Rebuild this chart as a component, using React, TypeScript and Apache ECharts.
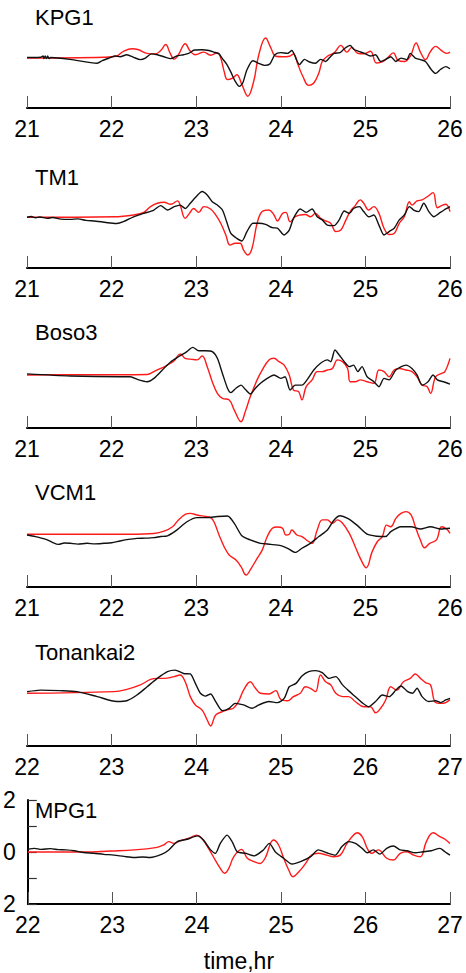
import { useEffect, useRef } from "react";
import * as echarts from "echarts";

// Station names and the first hour shown on each panel's time axis
const stationNames = ["KPG1", "TM1", "Boso3", "VCM1", "Tonankai2", "MPG1"];
const startHours = [21, 21, 21, 21, 22, 22];
const yTickLabels: Record<number, string> = { 2: "2", 0: "0", [-2]: "2" };

// [time (hr), height] samples — red = simulated, black = observed
const kpg1Sim: [number, number][] = [
  [21.0, -0.08], [21.91, -0.05], [22.06, 0], [22.14, 0.18], [22.24, 0.28], [22.32, 0.24], [22.42, 0.1],
  [22.52, 0.08], [22.58, 0.21], [22.64, 0.44], [22.69, 0.12], [22.74, -0.12], [22.79, 0.05], [22.87, 0.47],
  [22.93, 0.18], [22.99, 0.05], [23.09, 0.15], [23.17, 0.03], [23.25, 0.12], [23.29, -0.08], [23.33, -0.59],
  [23.37, -0.91], [23.43, -0.85], [23.48, -0.72], [23.54, -1.1], [23.61, -1.55], [23.68, -0.97], [23.74, 0.05],
  [23.82, 0.69], [23.88, 0.33], [23.94, -0.01], [24.02, -0.03], [24.1, -0.01], [24.15, 0.08], [24.2, -0.31],
  [24.26, -0.78], [24.33, -1.13], [24.39, -1.04], [24.45, -0.65], [24.49, -0.21], [24.55, -0.01], [24.63, 0.12],
  [24.71, 0.41], [24.78, 0.15], [24.84, 0.33], [24.91, 0.1], [24.98, 0.08], [25.06, 0.18], [25.13, -0.27],
  [25.2, -0.23], [25.26, -0.08], [25.33, 0.12], [25.39, -0.18], [25.46, -0.21], [25.53, -0.01], [25.6, 0.5],
  [25.65, 0.15], [25.71, -0.14], [25.77, 0.18], [25.83, 0.37], [25.9, 0.21], [25.96, 0.1], [26.0, 0.15],
];
const kpg1Obs: [number, number][] = [
  [21.0, -0.06], [21.08, -0.06], [21.16, -0.05], [21.19, 0.0], [21.2, -0.1], [21.215, 0.0], [21.23, -0.1],
  [21.245, 0.0], [21.26, -0.1], [21.28, -0.06], [21.51, -0.13], [21.83, -0.28], [21.89, -0.18], [21.97, -0.08],
  [22.04, 0], [22.1, -0.03], [22.18, 0.05], [22.26, -0.05], [22.34, -0.14], [22.4, -0.08], [22.47, 0.08],
  [22.54, 0.05], [22.62, -0.03], [22.7, -0.1], [22.77, 0], [22.85, 0.05], [22.91, 0.1], [22.98, 0.23],
  [23.07, 0.24], [23.15, 0.21], [23.21, 0.15], [23.27, 0.08], [23.31, -0.1], [23.36, -0.31], [23.41, -0.62],
  [23.46, -0.97], [23.51, -1.17], [23.55, -1.04], [23.6, -0.53], [23.67, -0.18], [23.74, -0.28], [23.81, -0.36],
  [23.87, -0.31], [23.93, 0.05], [24.0, 0.13], [24.08, 0.1], [24.13, 0.21], [24.18, -0.1], [24.22, -0.33],
  [24.28, -0.13], [24.34, -0.23], [24.41, -0.28], [24.47, -0.13], [24.53, -0.21], [24.58, -0.05], [24.63, 0.1],
  [24.7, 0.13], [24.75, 0.28], [24.82, 0.41], [24.86, 0.26], [24.92, 0.18], [24.99, 0.1], [25.06, 0],
  [25.12, 0.05], [25.18, -0.21], [25.24, -0.13], [25.3, -0.03], [25.36, -0.21], [25.42, -0.08], [25.49, -0.14],
  [25.53, 0.1], [25.59, -0.08], [25.65, -0.14], [25.71, -0.21], [25.78, -0.53], [25.83, -0.67], [25.89, -0.51],
  [25.95, -0.41], [26.0, -0.49],
];

const tm1Sim: [number, number][] = [
  [21.0, -0.05], [22.03, -0.03], [22.26, 0.04], [22.38, 0.14], [22.46, 0.36], [22.54, 0.49], [22.62, 0.53],
  [22.7, 0.45], [22.78, 0.58], [22.81, 0.42], [22.87, -0.09], [22.92, 0.1], [22.97, 0.29], [23.03, 0.14],
  [23.09, 0.36], [23.17, 0.27], [23.23, 0.04], [23.29, -0.28], [23.35, -0.73], [23.4, -1.12], [23.46, -1.05],
  [23.52, -1.05], [23.56, -1.31], [23.61, -1.5], [23.66, -1.24], [23.72, -0.28], [23.78, 0.17], [23.86, 0.23],
  [23.92, 0.04], [23.96, -0.19], [24.02, 0.1], [24.06, 0.14], [24.11, -0.22], [24.17, -0.03], [24.23, 0.04],
  [24.29, 0.06], [24.35, -0.03], [24.41, 0.1], [24.47, -0.09], [24.53, -0.19], [24.59, -0.28], [24.65, -0.6],
  [24.71, -0.54], [24.77, -0.15], [24.82, 0.17], [24.88, 0.4], [24.94, 0.62], [24.98, 0.49], [25.04, 0.23],
  [25.1, 0.36], [25.16, 0.1], [25.22, -0.47], [25.28, -0.71], [25.34, -0.67], [25.4, -0.28], [25.46, -0.03],
  [25.52, 0.55], [25.55, 0.42], [25.61, 0.58], [25.67, 0.62], [25.73, 0.74], [25.8, 0.9], [25.85, 0.32],
  [25.9, 0.4], [25.95, 0.45], [26.0, 0.17],
];
const tm1Obs: [number, number][] = [
  [21.0, -0.05], [21.05, -0.02], [21.1, -0.07], [21.15, -0.04], [21.24, -0.09], [21.3, -0.06], [21.4, -0.12],
  [21.51, -0.13], [21.6, -0.11], [21.7, -0.17], [21.79, -0.19], [21.88, -0.22], [21.95, -0.26], [22.06, -0.29],
  [22.14, -0.22], [22.26, -0.03], [22.38, 0.1], [22.5, 0.23], [22.58, 0.4], [22.66, 0.23], [22.74, 0.36],
  [22.81, 0.42], [22.87, 0.29], [22.93, 0.49], [22.99, 0.71], [23.07, 0.94], [23.13, 0.81], [23.19, 0.55],
  [23.25, 0.42], [23.31, 0.23], [23.36, -0.22], [23.41, -0.67], [23.48, -0.86], [23.54, -0.96], [23.6, -0.6],
  [23.67, -0.28], [23.74, -0.28], [23.82, -0.32], [23.9, -0.45], [23.96, -0.47], [24.04, -0.73], [24.1, -0.54],
  [24.15, -0.09], [24.23, 0.27], [24.3, 0.14], [24.37, 0.27], [24.43, -0.03], [24.49, -0.15], [24.55, -0.35],
  [24.63, -0.37], [24.69, -0.15], [24.75, 0.19], [24.81, 0.1], [24.86, 0.29], [24.93, 0.36], [24.98, 0.17],
  [25.04, -0.03], [25.1, 0.04], [25.16, -0.35], [25.22, -0.73], [25.28, -0.6], [25.34, -0.47], [25.4, -0.15],
  [25.46, 0.04], [25.52, 0.36], [25.57, 0.23], [25.63, 0.17], [25.69, 0.49], [25.75, 0.17], [25.81, -0.03],
  [25.87, 0.1], [25.93, 0.23], [26.0, 0.36],
];

const boso3Sim: [number, number][] = [
  [21.0, 0.04], [21.51, 0.05], [22.1, 0.05], [22.42, 0.06], [22.5, 0.17], [22.58, 0.29], [22.66, 0.42],
  [22.74, 0.59], [22.81, 0.85], [22.87, 0.68], [22.95, 0.64], [23.01, 0.62], [23.07, 0.77], [23.13, 0.36],
  [23.19, -0.22], [23.25, -0.67], [23.31, -0.86], [23.39, -0.92], [23.45, -1.31], [23.53, -1.76], [23.58, -1.37],
  [23.64, -0.79], [23.72, -0.15], [23.78, 0.23], [23.86, 0.62], [23.92, 0.68], [23.98, 0.55], [24.04, 0.42],
  [24.1, 0.04], [24.15, -0.54], [24.21, -0.6], [24.25, -0.92], [24.3, -0.41], [24.37, -0.15], [24.43, 0.17],
  [24.49, 0.17], [24.55, 0.23], [24.61, 0.29], [24.67, 0.62], [24.73, 0.55], [24.79, 0.29], [24.82, -0.22],
  [24.88, -0.22], [24.94, -0.15], [25.02, -0.22], [25.1, -0.28], [25.16, 0.23], [25.22, 0.17], [25.28, -0.03],
  [25.34, 0.23], [25.4, 0.29], [25.48, 0.23], [25.55, 0.17], [25.61, -0.03], [25.67, -0.35], [25.73, -0.41],
  [25.77, -0.67], [25.83, -0.03], [25.9, 0.1], [25.94, 0.17], [26.0, 0.68],
];
const boso3Obs: [number, number][] = [
  [21.0, 0.08], [21.51, 0.0], [22.1, -0.03], [22.22, -0.03], [22.32, -0.15], [22.42, -0.22], [22.5, -0.09],
  [22.6, 0.23], [22.7, 0.55], [22.79, 0.74], [22.89, 0.94], [22.96, 1.1], [23.03, 0.97], [23.11, 0.97],
  [23.19, 0.94], [23.25, 0.68], [23.31, 0.1], [23.37, -0.47], [23.41, -0.64], [23.47, -0.47], [23.53, -0.35],
  [23.58, -0.51], [23.64, -0.69], [23.7, -0.47], [23.76, -0.28], [23.84, -0.09], [23.92, 0.04], [24.0, -0.09],
  [24.05, -0.03], [24.11, -0.54], [24.17, -0.35], [24.25, -0.35], [24.31, -0.15], [24.39, 0.23], [24.47, 0.49],
  [24.55, 0.62], [24.59, 0.55], [24.64, 1.0], [24.69, 0.81], [24.75, 0.55], [24.81, 0.36], [24.86, 0.42],
  [24.91, 0.17], [24.96, 0.36], [25.02, -0.03], [25.1, -0.22], [25.16, -0.41], [25.22, -0.09], [25.28, -0.15],
  [25.36, 0.23], [25.48, 0.42], [25.55, 0.29], [25.61, 0.04], [25.67, -0.35], [25.74, -0.22], [25.8, 0.04],
  [25.85, -0.15], [25.92, -0.22], [26.0, -0.31],
];

const vcm1Sim: [number, number][] = [
  [21.0, 0.03], [22.22, 0.03], [22.5, 0.06], [22.62, 0.15], [22.72, 0.32], [22.79, 0.58], [22.87, 0.79],
  [22.93, 0.83], [23.01, 0.77], [23.11, 0.71], [23.17, 0.67], [23.21, 0.51], [23.27, 0.0], [23.33, -0.45],
  [23.39, -0.77], [23.47, -0.96], [23.53, -1.22], [23.59, -1.54], [23.65, -1.28], [23.72, -0.9], [23.78, -0.58],
  [23.84, -0.06], [23.9, 0.26], [23.96, 0.31], [24.02, 0.26], [24.06, 0.0], [24.1, 0.03], [24.13, 0.19],
  [24.19, 0.0], [24.25, -0.06], [24.32, -0.23], [24.37, -0.32], [24.43, 0.19], [24.49, 0.58], [24.55, 0.58],
  [24.61, 0.45], [24.67, 0.58], [24.73, 0.45], [24.81, 0.06], [24.88, -0.45], [24.94, -0.9], [25.01, -1.26],
  [25.08, -0.64], [25.14, -0.26], [25.2, -0.06], [25.25, 0.38], [25.3, 0.32], [25.36, 0.64], [25.42, 0.83],
  [25.48, 0.9], [25.54, 0.77], [25.59, 0.32], [25.65, -0.19], [25.7, -0.49], [25.76, -0.32], [25.84, -0.19],
  [25.9, 0.32], [25.96, 0.23], [26.0, 0.06],
];
const vcm1Obs: [number, number][] = [
  [21.0, 0.0], [21.1, -0.06], [21.17, -0.12], [21.24, -0.19], [21.3, -0.28], [21.37, -0.36], [21.44, -0.31],
  [21.51, -0.32], [21.6, -0.35], [21.71, -0.32], [21.8, -0.34], [21.91, -0.32], [22.0, -0.3], [22.1, -0.23],
  [22.2, -0.17], [22.3, -0.13], [22.4, -0.12], [22.5, -0.1], [22.58, -0.06], [22.66, -0.03], [22.77, 0.19],
  [22.89, 0.51], [23.01, 0.67], [23.13, 0.67], [23.25, 0.71], [23.37, 0.73], [23.45, 0.45], [23.54, -0.03],
  [23.64, -0.19], [23.76, -0.32], [23.88, -0.36], [24.0, -0.41], [24.08, -0.51], [24.17, -0.67], [24.25, -0.51],
  [24.35, -0.32], [24.45, -0.06], [24.55, 0.19], [24.63, 0.58], [24.7, 0.74], [24.79, 0.64], [24.9, 0.38],
  [25.02, 0.03], [25.14, -0.05], [25.24, -0.06], [25.3, 0.13], [25.42, 0.32], [25.54, 0.32], [25.65, 0.23],
  [25.77, 0.32], [25.89, 0.23], [26.0, 0.26],
];

const tonankai2Sim: [number, number][] = [
  [22.0, 0.03], [23.03, 0.09], [23.18, 0.18], [23.34, 0.35], [23.46, 0.56], [23.54, 0.6], [23.62, 0.6],
  [23.74, 0.67], [23.81, 0.73], [23.87, 0.47], [23.93, -0.1], [23.99, -0.42], [24.07, -0.62], [24.13, -1.0],
  [24.17, -1.23], [24.23, -0.81], [24.31, -0.68], [24.39, -0.59], [24.44, -0.55], [24.5, -0.29], [24.56, 0.15],
  [24.64, 0.47], [24.7, 0.22], [24.76, 0.03], [24.86, 0.0], [24.94, 0.13], [25.0, -0.21], [25.08, -0.26],
  [25.15, -0.1], [25.23, 0.03], [25.29, 0.28], [25.35, 0.22], [25.41, 0.09], [25.47, 0.73], [25.53, 0.47],
  [25.59, 0.35], [25.65, 0.03], [25.73, -0.1], [25.8, -0.1], [25.88, -0.29], [25.98, -0.49], [26.06, -0.49],
  [26.12, -0.72], [26.18, -0.55], [26.24, -0.23], [26.3, 0.28], [26.37, 0.15], [26.45, 0.47], [26.53, 0.6],
  [26.59, 0.77], [26.65, 0.6], [26.71, 0.44], [26.77, 0.35], [26.82, -0.29], [26.89, -0.36], [26.95, -0.33],
  [27.0, -0.21],
];
const tonankai2Obs: [number, number][] = [
  [22.0, 0.09], [22.16, 0.15], [22.39, 0.13], [22.59, 0.09], [22.83, -0.1], [23.06, -0.29], [23.18, -0.26],
  [23.3, -0.04], [23.42, 0.28], [23.54, 0.6], [23.66, 0.86], [23.75, 0.92], [23.85, 0.79], [23.93, 0.77],
  [23.99, 0.41], [24.05, 0.03], [24.11, -0.08], [24.17, 0.0], [24.23, -0.29], [24.31, -0.64], [24.39, -0.55],
  [24.46, -0.36], [24.56, -0.42], [24.66, -0.55], [24.74, -0.42], [24.86, -0.29], [24.96, -0.33], [25.04, -0.17],
  [25.1, 0.28], [25.18, 0.41], [25.25, 0.69], [25.33, 0.86], [25.41, 0.9], [25.49, 0.82], [25.57, 0.6],
  [25.65, 0.67], [25.73, 0.35], [25.8, 0.13], [25.88, -0.1], [25.96, -0.33], [26.04, -0.49], [26.12, -0.29],
  [26.2, -0.04], [26.28, -0.1], [26.36, 0.15], [26.42, 0.31], [26.5, 0.09], [26.56, 0.03], [26.61, 0.22],
  [26.67, -0.1], [26.75, -0.29], [26.83, -0.26], [26.89, -0.33], [26.95, -0.23], [27.0, -0.17],
];

const mpg1Sim: [number, number][] = [
  [22.0, 0.0], [22.67, 0.0], [22.98, 0.04], [23.26, 0.08], [23.53, 0.18], [23.61, 0.27], [23.67, 0.4],
  [23.73, 0.33], [23.81, 0.44], [23.91, 0.53], [24.0, 0.65], [24.06, 0.53], [24.14, 0.14], [24.22, -0.31],
  [24.28, -0.63], [24.33, -0.82], [24.38, -0.63], [24.44, -0.18], [24.53, 0.1], [24.6, -0.24], [24.68, -0.37],
  [24.75, -0.44], [24.81, -0.24], [24.91, 0.46], [24.97, 0.27], [25.03, -0.24], [25.09, -0.69], [25.14, -0.95],
  [25.21, -0.76], [25.29, -0.44], [25.36, -0.12], [25.44, -0.05], [25.54, -0.12], [25.62, -0.18], [25.7, -0.12],
  [25.78, 0.33], [25.84, 0.59], [25.9, 0.74], [25.96, 0.59], [26.02, 0.14], [26.07, -0.05], [26.15, 0.08],
  [26.25, -0.24], [26.33, -0.31], [26.41, -0.05], [26.49, 0.01], [26.57, -0.12], [26.65, -0.18], [26.72, 0.4],
  [26.8, 0.74], [26.88, 0.59], [26.94, 0.49], [27.0, 0.33],
];
const mpg1Obs: [number, number][] = [
  [22.0, 0.1], [22.08, 0.14], [22.16, 0.1], [22.27, 0.13], [22.36, 0.09], [22.45, 0.08], [22.55, 0.05],
  [22.66, -0.02], [22.78, -0.05], [22.9, -0.09], [23.02, -0.12], [23.14, -0.17], [23.26, -0.21], [23.36, -0.19],
  [23.45, -0.21], [23.59, -0.08], [23.67, 0.08], [23.77, 0.4], [23.89, 0.49], [24.01, 0.62], [24.08, 0.46],
  [24.16, 0.1], [24.22, -0.05], [24.28, 0.33], [24.36, 0.65], [24.42, 0.4], [24.48, 0.01], [24.58, -0.05],
  [24.68, -0.15], [24.79, 0.08], [24.86, 0.33], [24.93, 0.01], [25.03, -0.24], [25.13, -0.46], [25.23, -0.37],
  [25.35, -0.18], [25.44, 0.08], [25.54, -0.03], [25.64, -0.12], [25.72, 0.21], [25.8, 0.4], [25.88, 0.33],
  [25.96, 0.14], [26.02, -0.03], [26.09, 0.08], [26.17, -0.08], [26.25, 0.14], [26.33, 0.23], [26.41, 0.08],
  [26.49, 0.05], [26.59, -0.03], [26.68, 0.01], [26.78, 0.05], [26.88, 0.14], [26.94, 0.01], [27.0, -0.12],
];

const simulated = [kpg1Sim, tm1Sim, boso3Sim, vcm1Sim, tonankai2Sim, mpg1Sim];
const observed = [kpg1Obs, tm1Obs, boso3Obs, vcm1Obs, tonankai2Obs, mpg1Obs];

// Layout of the six stacked panels
const FONT = '"Liberation Sans", Arial, Helvetica, sans-serif';
const GRID_LEFT = 27;
const GRID_RIGHT = 16;
const GRID_TOPS = [4, 164, 324, 483, 642, 800];
const GRID_HEIGHT = 104;
const TITLE_TOPS = [6, 166, 321, 481, 641, 799];

function buildOption(): echarts.EChartsOption {
  const last = stationNames.length - 1;
  return {
    animation: false,
    backgroundColor: "#fff",
    title: stationNames.map((name, i) => ({
      text: name,
      left: 35,
      top: TITLE_TOPS[i],
      padding: 0,
      textStyle: { fontSize: 22, fontWeight: "normal", fontFamily: FONT, color: "#000" },
    })),
    grid: GRID_TOPS.map((top) => ({
      left: GRID_LEFT,
      right: GRID_RIGHT,
      top,
      height: GRID_HEIGHT,
      containLabel: false,
    })),
    xAxis: startHours.map((start, i) => ({
      type: "value",
      gridIndex: i,
      min: start,
      max: start + 5,
      interval: 1,
      splitLine: { show: false },
      axisLine: { show: true, onZero: false, lineStyle: { color: "#000", width: 2 } },
      axisTick: { show: true, inside: true, length: 12, lineStyle: { color: "#555", width: 1 } },
      axisLabel: {
        fontSize: 23,
        color: "#000",
        fontFamily: FONT,
        margin: 9,
        showMinLabel: true,
        showMaxLabel: true,
      },
      ...(i === last
        ? {
            name: "time,hr",
            nameLocation: "middle",
            nameGap: 45,
            nameTextStyle: { fontSize: 23, color: "#000", fontFamily: FONT },
          }
        : {}),
    })),
    yAxis: stationNames.map((_, i) => ({
      type: "value",
      gridIndex: i,
      min: -2,
      max: 2,
      interval: 1,
      show: i === last,
      splitLine: { show: false },
      axisLine: { show: true, onZero: false, lineStyle: { color: "#000", width: 2 } },
      axisTick: { show: true, inside: true, length: 9, lineStyle: { color: "#333", width: 1.2 } },
      axisLabel: {
        fontSize: 23,
        color: "#000",
        fontFamily: FONT,
        margin: 12,
        formatter: (v: number) => yTickLabels[v] ?? "",
      },
    })),
    series: stationNames.flatMap((name, i) => [
      {
        name: `${name} simulated`,
        type: "line",
        xAxisIndex: i,
        yAxisIndex: i,
        data: simulated[i],
        showSymbol: false,
        symbol: "none",
        smooth: 0.4,
        lineStyle: { color: "#ff1a1a", width: 1.4 },
        z: 2,
      },
      {
        name: `${name} observed`,
        type: "line",
        xAxisIndex: i,
        yAxisIndex: i,
        data: observed[i],
        showSymbol: false,
        symbol: "none",
        smooth: 0.25,
        lineStyle: { color: "#111", width: 1.4 },
        z: 3,
      },
    ]),
  } as echarts.EChartsOption;
}

export default function App() {
  const ref = useRef<HTMLDivElement>(null);
  useEffect(() => {
    if (!ref.current) return;
    const chart = echarts.init(ref.current, null, { renderer: "svg" });
    chart.setOption(buildOption());
    return () => chart.dispose();
  }, []);
  return (
    <div
      ref={ref}
      style={{ position: "absolute", left: 0, top: 0, width: 466, height: 973, background: "#fff" }}
    />
  );
}
